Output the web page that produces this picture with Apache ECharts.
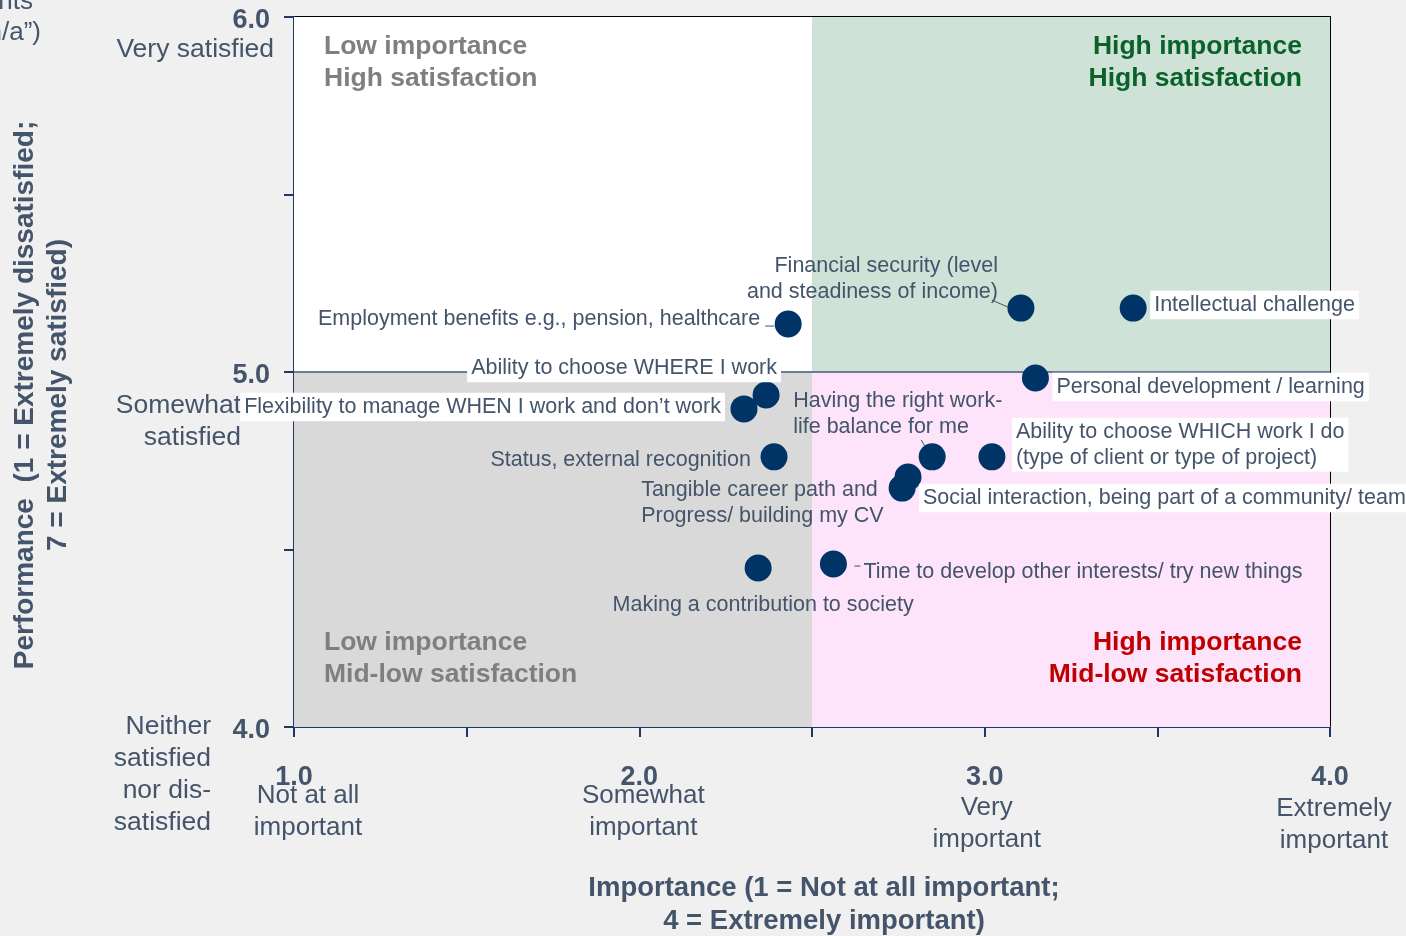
<!DOCTYPE html>
<html>
<head>
<meta charset="utf-8">
<script src="https://cdn.jsdelivr.net/npm/echarts/dist/echarts.min.js"></script>
<style>
html,body{margin:0;padding:0;background:#F0F0F0;}
#chart{width:1406px;height:936px;}
</style>
</head>
<body>
<div id="chart"></div>
<script>
// ---------------- DATA ----------------
const items = [
  'Intellectual challenge',
  'Financial security (level\nand steadiness of income)',
  'Employment benefits e.g., pension, healthcare',
  'Personal development / learning',
  'Ability to choose WHERE I work',
  'Flexibility to manage WHEN I work and don\u2019t work',
  'Status, external recognition',
  'Having the right work-\nlife balance for me',
  'Ability to choose WHICH work I do\n(type of client or type of project)',
  'Social interaction, being part of a community/ team',
  'Tangible career path and\nProgress/ building my CV',
  'Time to develop other interests/ try new things',
  'Making a contribution to society'
];
const importance  = [3.43, 3.105, 2.431, 3.147, 2.367, 2.303, 2.39, 2.848, 3.021, 2.778, 2.761, 2.562, 2.344];
const performance = [5.18, 5.18, 5.135, 4.983, 4.935, 4.896, 4.761, 4.761, 4.761, 4.704, 4.673, 4.459, 4.448];

const xTicks = [1, 2, 3, 4];
const xTickNames = ['Not at all\nimportant', 'Somewhat\nimportant', 'Very\nimportant', 'Extremely\nimportant'];
const yTicks = [6, 5, 4];
const yTickNames = ['Very satisfied', 'Somewhat\nsatisfied', 'Neither\nsatisfied\nnor dis-\nsatisfied'];

const splitImportance = 2.5;
const splitPerformance = 5.0;
const quadrantNames = [
  'Low importance\nHigh satisfaction',
  'High importance\nHigh satisfaction',
  'Low importance\nMid-low satisfaction',
  'High importance\nMid-low satisfaction'
];
const axisNameX = 'Importance (1 = Not at all important;\n4 = Extremely important)';
const axisNameY = 'Performance  (1 = Extremely dissatisfied;\n7 = Extremely satisfied)';
const noteLines = ['respondents', '(excluding \u201cn/a\u201d)'];

// ---------------- LAYOUT / STYLE ----------------
const FONT = '"Liberation Sans", Arial, sans-serif';
const TXT = '#44546A';
const NAVY = '#1F3864';
const xMin = 1, xMax = 4, yMin = 4, yMax = 6;

// per-label placement relative to point (pixels)
const labelLayout = [
  {align:'left',   dx:21,   dy:-3,   box:true},
  {align:'right',  dx:-23,  dy:-29,  box:false, lead:[-29,-8,-13,-1]},
  {align:'right',  dx:-28,  dy:-5,   box:false, lead:[-23,2,-14,2]},
  {align:'left',   dx:21,   dy:9,    box:true},
  {align:'center', dx:-142, dy:-27,  box:true},
  {align:'right',  dx:-23,  dy:-2,   box:true},
  {align:'right',  dx:-23,  dy:3,    box:false},
  {align:'left',   dx:-139, dy:-43,  box:false, lead:[-11,-17,-7,-10]},
  {align:'left',   dx:24,   dy:-12,  box:true},
  {align:'left',   dx:15,   dy:21,   box:true},
  {align:'left',   dx:-261, dy:15,   box:false},
  {align:'left',   dx:30,   dy:8,    box:false, lead:[21,2,27,2]},
  {align:'center', dx:5,    dy:37,   box:false}
];

const chart = echarts.init(document.getElementById('chart'), null, {renderer:'canvas'});

const scatterData = items.map((n, i) => {
  const L = labelLayout[i];
  let dx = L.dx;
  if (L.box) { if (L.align === 'left') dx -= 4; else if (L.align === 'right') dx += 4; }
  return {
    name: n,
    value: [importance[i], performance[i]],
    label: {
      align: L.align,
      verticalAlign: 'middle',
      offset: [dx, L.dy],
      backgroundColor: L.box ? '#FFFFFF' : 'transparent',
      padding: L.box ? [2, 4, 1, 4] : 0
    }
  };
});

const leaderData = [];
labelLayout.forEach((L, i) => {
  if (L.lead) leaderData.push([importance[i], performance[i]].concat(L.lead));
});

function qLabel(text, color, pos, align, vAlign, offset) {
  return {
    show: true, formatter: text, position: pos, align: align, verticalAlign: vAlign,
    offset: offset, color: color, fontFamily: FONT, fontWeight: 'bold', fontSize: 26.5, lineHeight: 32
  };
}

const option = {
  backgroundColor: '#F0F0F0',
  animation: false,
  grid: {left: 294, right: 76, top: 17, bottom: 209, show: true, borderColor: '#000', borderWidth: 2, backgroundColor: 'transparent'},
  xAxis: {
    type: 'value', min: xMin, max: xMax, interval: 0.5,
    splitLine: {show: false},
    axisLine: {show: true, onZero: false, lineStyle: {color: NAVY, width: 2}},
    axisTick: {show: true, length: 10, lineStyle: {color: NAVY, width: 2}},
    axisLabel: {
      margin: 37, color: TXT, fontFamily: FONT, fontWeight: 'bold', fontSize: 27,
      formatter: v => (Math.abs(v - Math.round(v)) < 1e-6 ? v.toFixed(1) : '')
    }
  },
  yAxis: {
    type: 'value', min: yMin, max: yMax, interval: 0.5,
    splitLine: {show: false},
    axisLine: {show: true, onZero: false, lineStyle: {color: NAVY, width: 2}},
    axisTick: {show: true, length: 10, lineStyle: {color: NAVY, width: 2}},
    axisLabel: {
      margin: 24, color: TXT, fontFamily: FONT, fontWeight: 'bold', fontSize: 27,
      verticalAlign: 'top', lineHeight: 8,
      formatter: v => (Math.abs(v - Math.round(v)) < 1e-6 ? v.toFixed(1) : '')
    }
  },
  series: [
    {
      type: 'scatter',
      symbol: 'circle',
      symbolSize: 27,
      itemStyle: {color: '#003366', opacity: 1},
      emphasis: {disabled: true},
      z: 5,
      label: {
        show: true, position: 'inside', formatter: p => p.name,
        color: TXT, fontFamily: FONT, fontSize: 21.5, lineHeight: 25.5
      },
      data: scatterData,
      markArea: {
        silent: true,
        data: [
          [{xAxis: xMin, yAxis: splitPerformance, itemStyle: {color: '#FFFFFF'},
            label: qLabel(quadrantNames[0], '#7F7F7F', [30, 14], 'left', 'top', [0, 0])},
           {xAxis: splitImportance, yAxis: yMax}],
          [{xAxis: splitImportance, yAxis: splitPerformance, itemStyle: {color: '#CFE2D7'},
            label: qLabel(quadrantNames[1], '#0A6229', ['100%', 14], 'right', 'top', [-28, 0])},
           {xAxis: xMax, yAxis: yMax}],
          [{xAxis: xMin, yAxis: yMin, itemStyle: {color: '#D9D9D9'},
            label: qLabel(quadrantNames[2], '#7F7F7F', [30, '100%'], 'left', 'bottom', [0, -36])},
           {xAxis: splitImportance, yAxis: splitPerformance}],
          [{xAxis: splitImportance, yAxis: yMin, itemStyle: {color: '#FDE4FA'},
            label: qLabel(quadrantNames[3], '#C00000', ['100%', '100%'], 'right', 'bottom', [-28, -36])},
           {xAxis: xMax, yAxis: splitPerformance}]
        ]
      },
      markLine: {
        silent: true, symbol: ['none', 'none'], animation: false,
        label: {show: false},
        lineStyle: {color: '#687C97', width: 2, type: 'solid'},
        data: [{yAxis: splitPerformance}]
      }
    },
    {
      type: 'custom',
      z: 4,
      silent: true,
      data: leaderData,
      renderItem: (params, api) => {
        const p = api.coord([api.value(0), api.value(1)]);
        return {
          type: 'line',
          shape: {x1: p[0] + api.value(2), y1: p[1] + api.value(3), x2: p[0] + api.value(4), y2: p[1] + api.value(5)},
          style: {stroke: TXT, lineWidth: 1}
        };
      }
    }
  ]
};

chart.setOption(option);

// ---------- extra texts placed through the axes' scales ----------
const xDescLayout = [
  {dx: 14, dy: 21}, {dx: 4, dy: 21}, {dx: 2, dy: 33}, {dx: 4, dy: 34}
];
const yDescLayout = [
  {x: 274, dy: 33}, {x: 241, dy: 34}, {x: 211, dy: 0}
];
const graphics = [];
xTicks.forEach((v, i) => {
  const p = chart.convertToPixel({gridIndex: 0}, [v, yMin]);
  graphics.push({
    type: 'text', x: p[0] + xDescLayout[i].dx, y: p[1] + 48 + xDescLayout[i].dy - 16,
    style: {text: xTickNames[i], fill: TXT, font: '26px ' + FONT, textAlign: 'center', textVerticalAlign: 'top', lineHeight: 32},
    silent: true
  });
});
yTicks.forEach((v, i) => {
  const p = chart.convertToPixel({gridIndex: 0}, [xMin, v]);
  graphics.push({
    type: 'text', x: yDescLayout[i].x, y: p[1] + yDescLayout[i].dy - 16,
    style: {text: yTickNames[i], fill: TXT, font: '26.5px ' + FONT, textAlign: 'right', textVerticalAlign: 'top', lineHeight: 32},
    silent: true
  });
});
const c = chart.convertToPixel({gridIndex: 0}, [(xMin + xMax) / 2, (yMin + yMax) / 2]);
graphics.push({
  type: 'text', x: c[0] + 12, y: 905,
  style: {text: axisNameX, fill: TXT, font: 'bold 27.5px ' + FONT, textAlign: 'center', textVerticalAlign: 'middle', lineHeight: 33},
  silent: true
});
graphics.push({
  type: 'text', x: 42, y: c[1] + 23, rotation: Math.PI / 2,
  style: {text: axisNameY, fill: TXT, font: 'bold 28px ' + FONT, textAlign: 'center', textVerticalAlign: 'middle', lineHeight: 33},
  silent: true
});
graphics.push({
  type: 'text', x: 33, y: 2,
  style: {text: noteLines[0], fill: TXT, font: '26px ' + FONT, textAlign: 'right', textVerticalAlign: 'middle'},
  silent: true
});
graphics.push({
  type: 'text', x: 41, y: 33,
  style: {text: noteLines[1], fill: TXT, font: '26px ' + FONT, textAlign: 'right', textVerticalAlign: 'middle'},
  silent: true
});
chart.setOption({graphic: graphics});
</script>
</body>
</html>
